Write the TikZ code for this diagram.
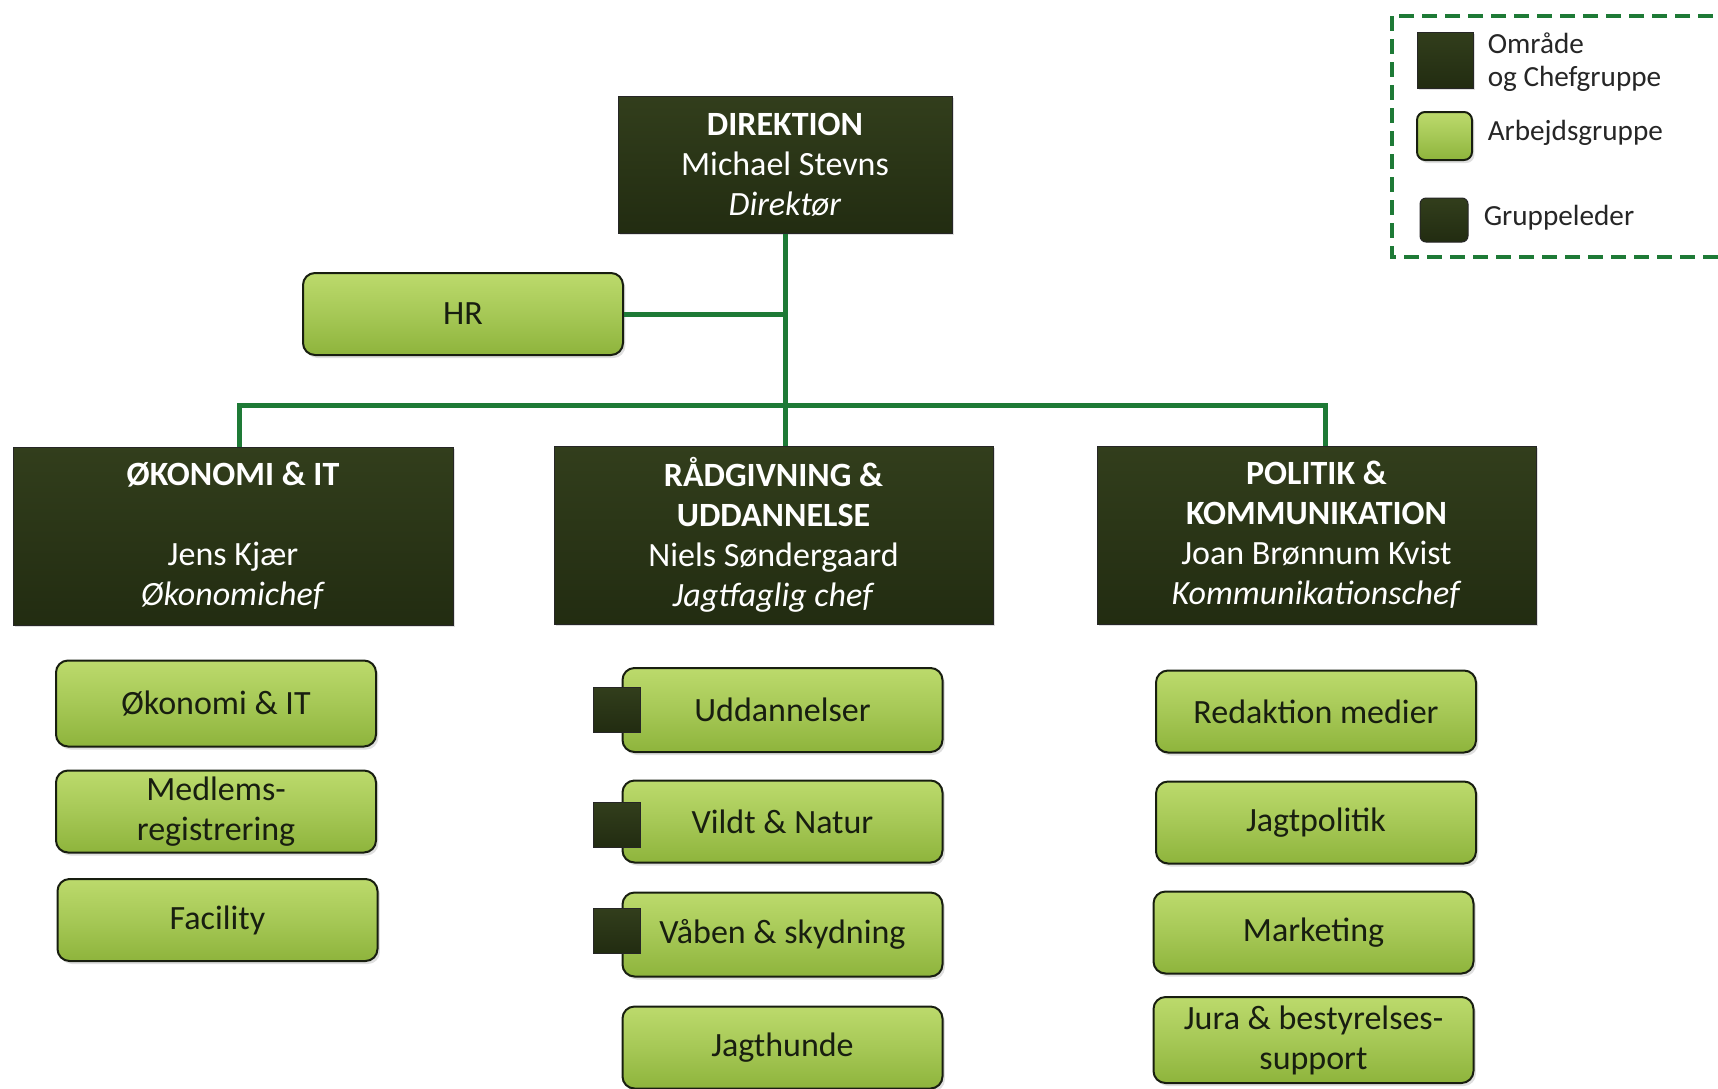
\documentclass[tikz,border=0pt]{standalone}
\usepackage{fontspec}
\setmainfont{Carlito}
\usetikzlibrary{shadows}

\definecolor{cheftop}{RGB}{50,62,28}
\definecolor{chefbot}{RGB}{34,44,17}
\definecolor{grptop}{RGB}{188,218,108}
\definecolor{grpmid}{RGB}{166,200,86}
\definecolor{grpbot}{RGB}{142,180,60}
\definecolor{linkgreen}{RGB}{30,122,54}
\definecolor{txtdark}{RGB}{24,30,16}

\tikzset{every picture/.style={line width=0.75pt}}
\tikzset{
  chefbox/.style={draw=black!85, line width=0.5pt, top color=cheftop, bottom color=chefbot,
    text=white, align=center, inner sep=0pt, font=\fontsize{17}{20}\selectfont,
    drop shadow={opacity=0.25, shadow xshift=1.2pt, shadow yshift=-1.2pt}},
  grpbox/.style={draw=txtdark, line width=1pt, rounded corners=6pt, top color=grptop,
    bottom color=grpbot, middle color=grpmid, text=txtdark, align=center, inner sep=0pt,
    minimum width=160pt, minimum height=41pt, font=\fontsize{17}{20}\selectfont,
    drop shadow={opacity=0.25, shadow xshift=1.2pt, shadow yshift=-1.5pt}},
  leadbox/.style={draw=black!85, line width=0.5pt, top color=cheftop, bottom color=chefbot,
    inner sep=0pt, minimum width=23.5pt, minimum height=22.5pt},
  link/.style={draw=linkgreen, line width=2.5pt},
  legtxt/.style={anchor=west, align=left, text=black!85, inner sep=0pt,
    font=\fontsize{14.6}{16.5}\selectfont}
}

\begin{document}
\begin{tikzpicture}[x=0.5pt,y=0.5pt,yscale=-1,xscale=1]
\useasboundingbox (0,0) rectangle (1718,1088);
\clip (0,0) rectangle (1718,1088);

%Legend: dashed frame
\draw [draw=linkgreen, line width=2pt, dash pattern=on 7.5pt off 4pt] (1392,16) rectangle (1760,257);
%Legend: keys
\node [chefbox, minimum width=28pt, minimum height=28pt] (lgchef) at (1445,60) {};
\node [grpbox, minimum width=27.5pt, minimum height=24pt, rounded corners=4pt] (lggrp) at (1444.5,136) {};
\node [leadbox, rounded corners=3pt, minimum width=24pt, minimum height=22pt] (lglead) at (1444,220) {};
% Text Node
\node [legtxt] (lgcheftxt) at (1487,62.5) {Område\\og Chefgruppe};
% Text Node
\node [legtxt] (lggrptxt) at (1487,133) {Arbejdsgruppe};
% Text Node
\node [legtxt] (lgleadtxt) at (1483,218) {Gruppeleder};

%Shape: Direktion
\node [chefbox, minimum width=167pt, minimum height=68.5pt] (dir) at (785,164.5)
  {\textbf{DIREKTION}\\Michael Stevns\\\textit{Direktør}};
%Shape: HR
\node [grpbox] (hr) at (463,314) {HR};

%Shape: Omraader
\node [chefbox, minimum width=220pt, minimum height=89pt] (oko) at (233,536)
  {\textbf{ØKONOMI \& IT}\\[20pt]Jens Kjær\\\textit{Økonomichef}};
\node [chefbox, minimum width=219.5pt, minimum height=89pt] (rad) at (773.5,535)
  {\textbf{RÅDGIVNING \&}\\\textbf{UDDANNELSE}\\Niels Søndergaard\\\textit{Jagtfaglig chef}};
\node [chefbox, minimum width=219.5pt, minimum height=89pt] (pol) at (1316.5,535)
  {\textbf{POLITIK \&}\\\textbf{KOMMUNIKATION}\\Joan Brønnum Kvist\\\textit{Kommunikationschef}};

%Connectors
\coordinate (bar) at (785,405);
\draw [link] (dir.south) -- (dir.south |- rad.north);
\draw [link] (hr.east) -- (hr.east -| dir.south);
\draw [link] ([xshift=3pt]oko.north) |- (bar) -| ([xshift=4.25pt]pol.north);

%Arbejdsgrupper: okonomi
\node [grpbox, minimum height=43pt] (okoit) at (216,703.5) {Økonomi \& IT};
\node [grpbox] (medl) at (216,811.5) {Medlems-\\registrering};
\node [grpbox] (fac) at (217.5,920) {Facility};

%Arbejdsgrupper: raadgivning
\node [grpbox, minimum height=42pt] (udd) at (782.5,710) {Uddannelser};
\node [grpbox] (vildt) at (782.5,821.5) {Vildt \& Natur};
\node [grpbox, minimum height=42pt] (vaab) at (782.5,934.5) {Våben \& skydning};
\node [grpbox] (hund) at (782.5,1047.5) {Jagthunde};
%Gruppeledere
\node [leadbox] (uddlead) at (616.5,709.5) {};
\node [leadbox] (vildtlead) at (616.5,825) {};
\node [leadbox] (vaablead) at (616.5,930.5) {};

%Arbejdsgrupper: politik
\node [grpbox] (red) at (1316,711.5) {Redaktion medier};
\node [grpbox] (jpol) at (1316,822.5) {Jagtpolitik};
\node [grpbox] (mark) at (1313.5,932.5) {Marketing};
\node [grpbox, minimum height=43pt] (jura) at (1313.5,1040) {Jura \& bestyrelses-\\support};

\end{tikzpicture}
\end{document}
